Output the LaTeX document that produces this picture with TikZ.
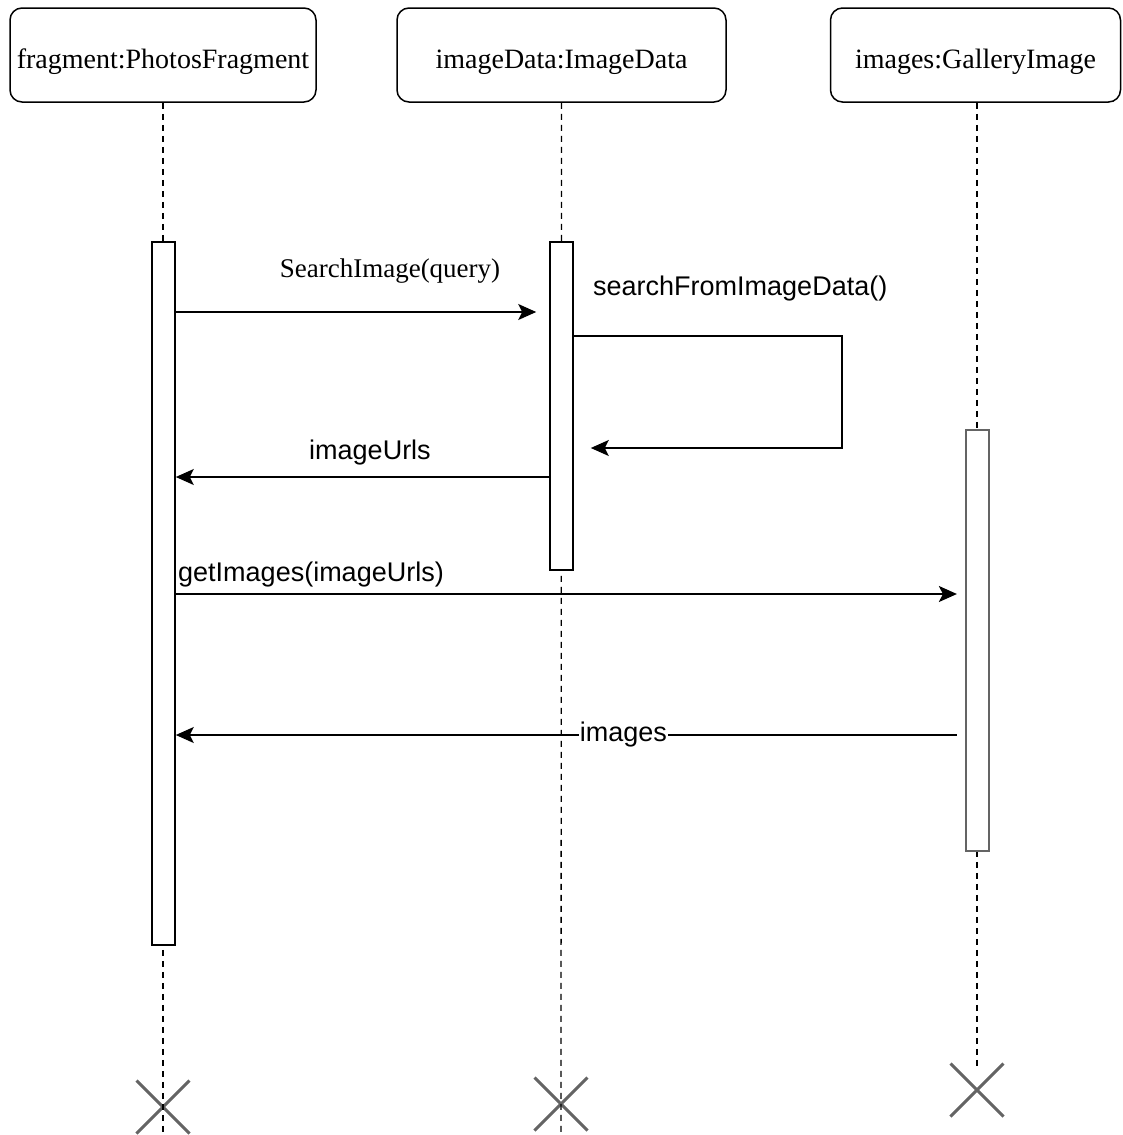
\documentclass[tikz,border=0pt]{standalone}
\usepackage{fontspec}
\setmainfont{Liberation Serif}
\setsansfont{Liberation Sans}
\usetikzlibrary{positioning,arrows.meta,shapes.misc}
\definecolor{grisa}{RGB}{100,100,100}

\begin{document}
\begin{tikzpicture}[x=1pt, y=-1pt,
  obj/.style={rectangle, rounded corners=12pt, draw, line width=1.5pt,
              minimum height=94pt, inner sep=0pt, text height=26pt, text depth=0pt,
              font=\fontsize{28}{32}\selectfont},
  act/.style={rectangle, draw=#1, fill=white, line width=1.6pt,
              minimum width=23pt, inner sep=0pt},
  act/.default=black,
  life/.style={line width=1.3pt, dash pattern=on 6pt off 5pt},
  msg/.style={line width=1.6pt, -{Stealth[length=18pt,width=16pt,inset=4pt]}},
  lbl/.style={font=\sffamily\fontsize{27}{31}\selectfont, inner sep=1pt},
  lbs/.style={font=\fontsize{27}{31}\selectfont, inner sep=1pt},
  kill/.style={cross out, draw=grisa, line width=3pt, minimum size=50pt, inner sep=0pt}]

\useasboundingbox (0,0) rectangle (1122,1135);

% ── objets ──
\node[obj, minimum width=306pt] (o1) at (163,55) {fragment:PhotosFragment};
\node[obj, minimum width=329pt] (o2) at (561.5,55) {imageData:ImageData};
\node[obj, minimum width=290pt] (o3) at (975.5,55) {images:GalleryImage};

% ── fins de vie ──
\node[kill] (x1) at (163,1107) {};
\node[kill] (x2) at (561,1104) {};
\node[kill] (x3) at (977,1090) {};
\coordinate (b1) at (163,1135);
\coordinate (b2) at (561,1135);

% ── lignes de vie ──
\draw[life] (o1.south) -- (b1);
\draw[life] (o2.south) -- (b2);
\draw[life] ([xshift=1.5pt]o3.south) -- ([yshift=-5pt]x3.north);

% ── activations ──
\node[act, minimum height=703pt] (a1) at (163.5,593.5) {};
\node[act, minimum height=328pt] (a2) at (561.5,406) {};
\node[act=grisa, line width=2.2pt, minimum height=421pt] (a3) at (977.5,640.5) {};

% ── messages ──
\coordinate (r1) at (0,312);
\coordinate (r2) at (0,336);
\coordinate (sc) at (842,448);
\coordinate (r3) at (0,477);
\coordinate (r4) at (0,594);
\coordinate (r5) at (0,735);

\draw[msg] (a1.east |- r1) -- ([xshift=-13pt]a2.west |- r1);
\node[lbs] (t1) at (390,271) {SearchImage(query)};

\draw[msg] (a2.east |- r2) -| (sc) -- ([xshift=17pt]a2.east |- sc);
\node[lbl, anchor=west] (t2) at (592,289) {searchFromImageData()};

\draw[msg] (a2.west |- r3) -- (a1.east |- r3);
\node[lbl] (t3) at (370,453) {imageUrls};

\draw[msg] (a1.east |- r4) -- ([xshift=-8pt]a3.west |- r4);
\node[lbl, anchor=west] (t4) at (177,575) {getImages(imageUrls)};

\draw[msg] ([xshift=-8pt]a3.west |- r5) -- node[lbl, pos=0.427, fill=white] (t5) {images} (a1.east |- r5);

\end{tikzpicture}
\end{document}
